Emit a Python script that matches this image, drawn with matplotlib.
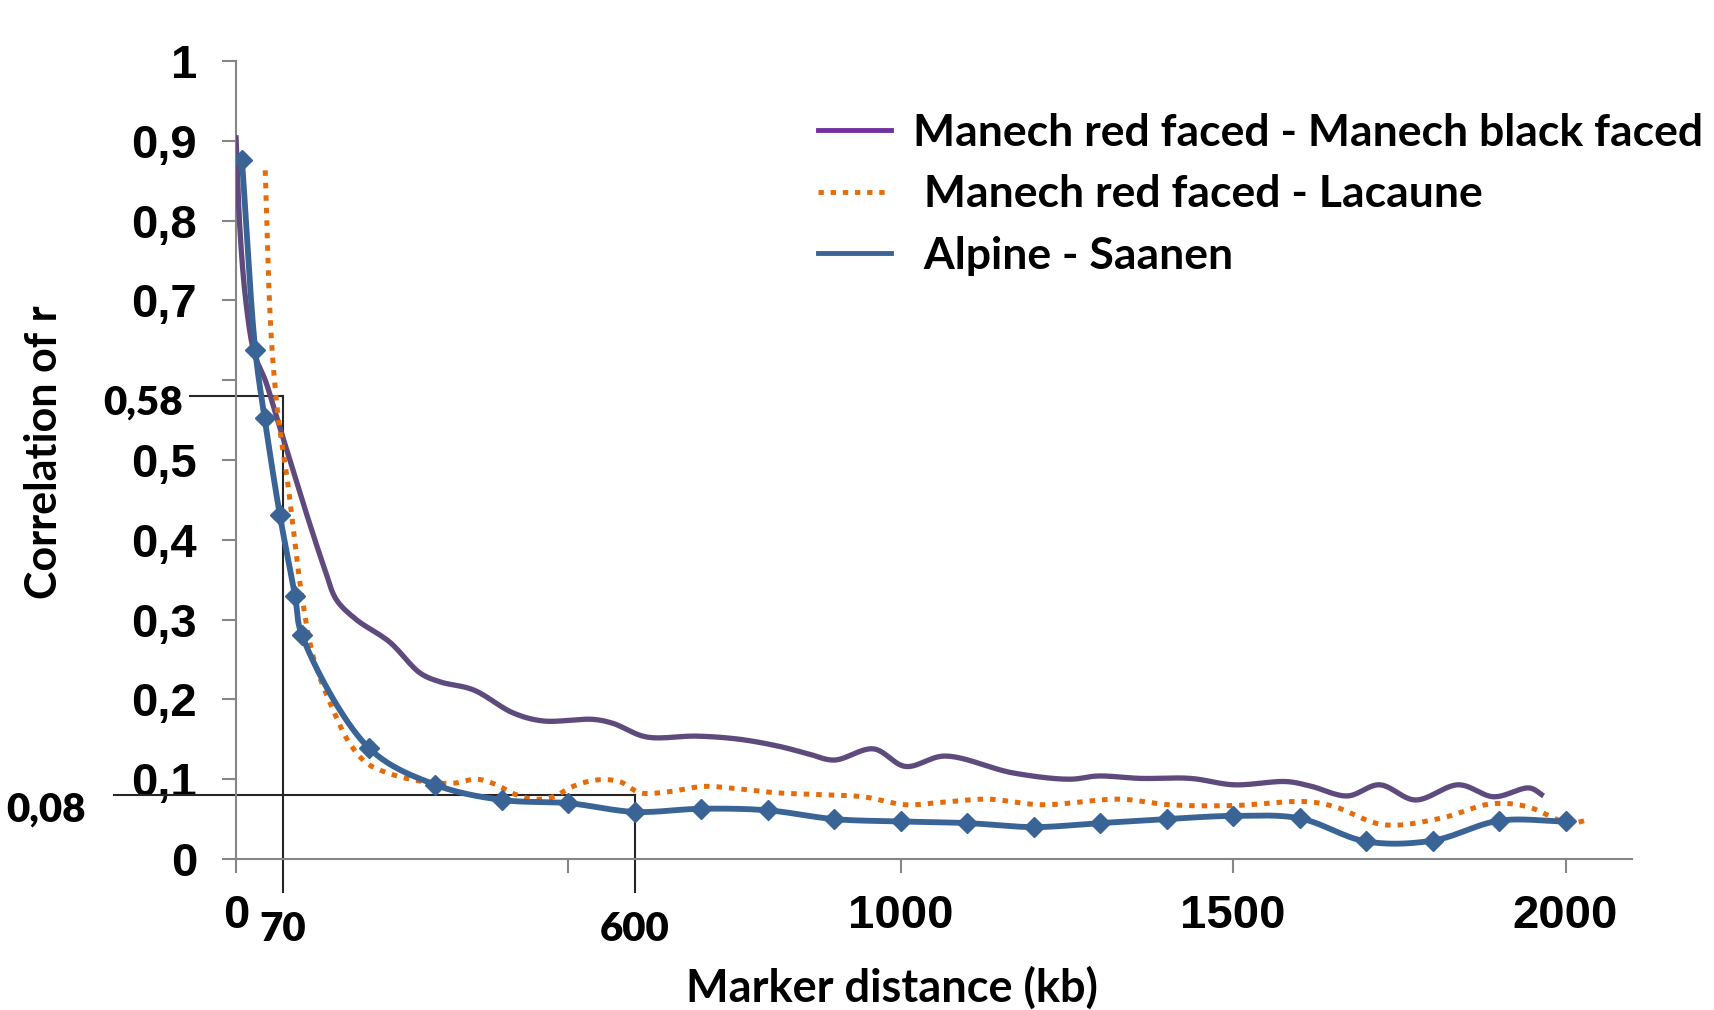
import numpy as np
import matplotlib
matplotlib.use("Agg")
import matplotlib.pyplot as plt
from matplotlib.lines import Line2D
from matplotlib import transforms

# Distancia entre marcadores (kb) y correlación de r para cada par de razas
dist_manech_black = [0, 6, 14, 24, 31, 44, 64, 84, 109, 134, 151, 181, 231, 277, 307,
                     357, 417, 462, 537, 567, 617, 693, 758, 818, 860, 900, 959, 1007,
                     1066, 1168, 1254, 1297, 1361, 1436, 1501, 1581, 1618, 1672, 1720,
                     1774, 1839, 1892, 1946, 1967]
r_manech_black = [0.907, 0.788, 0.705, 0.646, 0.625, 0.600, 0.546, 0.492, 0.425, 0.362,
                  0.325, 0.300, 0.272, 0.233, 0.222, 0.212, 0.183, 0.173, 0.175, 0.170,
                  0.153, 0.154, 0.150, 0.141, 0.132, 0.124, 0.138, 0.116, 0.129, 0.108,
                  0.100, 0.104, 0.101, 0.101, 0.093, 0.097, 0.091, 0.079, 0.093, 0.074,
                  0.093, 0.078, 0.089, 0.079]

dist_lacaune = [44, 49, 53, 57, 64, 76, 86, 99, 118, 146, 171, 197, 231, 282, 327, 362,
                392, 417, 447, 477, 507, 542, 577, 608, 648, 703, 743, 813, 868, 943,
                1007, 1061, 1131, 1212, 1329, 1404, 1501, 1608, 1651, 1726, 1812, 1887,
                1941, 2005, 2037]
r_lacaune = [0.863, 0.726, 0.655, 0.609, 0.550, 0.483, 0.416, 0.330, 0.248, 0.187,
             0.145, 0.120, 0.107, 0.097, 0.095, 0.100, 0.093, 0.082, 0.075, 0.078,
             0.091, 0.099, 0.097, 0.083, 0.084, 0.091, 0.089, 0.083, 0.081, 0.078,
             0.068, 0.071, 0.075, 0.068, 0.075, 0.068, 0.067, 0.072, 0.066, 0.043,
             0.051, 0.069, 0.066, 0.045, 0.050]

dist_alpine = [9, 29, 43, 66, 89, 99, 200, 300, 400, 500, 600, 700, 800, 900, 1000,
               1100, 1200, 1300, 1400, 1500, 1600, 1700, 1800, 1900, 2000]
r_alpine = [0.876, 0.638, 0.553, 0.431, 0.329, 0.281, 0.139, 0.093, 0.074, 0.070,
            0.059, 0.063, 0.061, 0.050, 0.047, 0.045, 0.040, 0.045, 0.050, 0.054,
            0.051, 0.022, 0.023, 0.048, 0.047]

series_names = ["Manech red faced - Manech black faced",
                " Manech red faced - Lacaune",
                " Alpine - Saanen"]

x_ticks = [0, 500, 1000, 1500, 2000]
x_ticklabels = ["0", "", "1000", "1500", "2000"]
y_ticks = [0, 0.1, 0.2, 0.3, 0.4, 0.5, 0.6, 0.7, 0.8, 0.9, 1.0]
y_ticklabels = ["0", "0,1", "0,2", "0,3", "0,4", "0,5", "", "0,7", "0,8", "0,9", "1"]

# valeurs repères (seuils)
r_seuils = [0.58, 0.08]
dist_seuils = [70, 600]

gris = "#868686"
violet = "#5E4A7D"
violet_leg = "#7030A0"
orange = "#E46C0A"
bleu = "#3A6495"

fig = plt.figure(figsize=(17.15, 10.10), dpi=100)
ax = fig.add_axes([0.1376, 0.1495, 0.8140, 0.7901])
ax.set_xlim(0, 2100)
ax.set_ylim(0, 1)


def lisser(xs, ys, n=24):
    # Catmull-Rom centripète calculé en pixels, pour une courbe lissée
    P = ax.transData.transform(np.column_stack([xs, ys]))
    P = np.vstack([2 * P[0] - P[1], P, 2 * P[-1] - P[-2]])
    out = [P[1]]
    for i in range(1, len(P) - 2):
        p0, p1, p2, p3 = P[i - 1], P[i], P[i + 1], P[i + 2]
        d01 = max(np.linalg.norm(p1 - p0), 1e-6) ** 0.5
        d12 = max(np.linalg.norm(p2 - p1), 1e-6) ** 0.5
        d23 = max(np.linalg.norm(p3 - p2), 1e-6) ** 0.5
        t0, t1 = 0.0, d01
        t2, t3 = t1 + d12, t1 + d12 + d23
        t = np.linspace(t1, t2, n)[1:, None]
        a1 = (t1 - t) / (t1 - t0) * p0 + (t - t0) / (t1 - t0) * p1
        a2 = (t2 - t) / (t2 - t1) * p1 + (t - t1) / (t2 - t1) * p2
        a3 = (t3 - t) / (t3 - t2) * p2 + (t - t2) / (t3 - t2) * p3
        b1 = (t2 - t) / (t2 - t0) * a1 + (t - t0) / (t2 - t0) * a2
        b2 = (t3 - t) / (t3 - t1) * a2 + (t - t1) / (t3 - t1) * a3
        c = (t2 - t) / (t2 - t1) * b1 + (t - t1) / (t2 - t1) * b2
        out.extend(c)
    Q = ax.transData.inverted().transform(np.array(out))
    return Q[:, 0], Q[:, 1]


# lignes repères
ax.plot([dist_seuils[0], dist_seuils[0]], [r_seuils[0], -0.041], color="#262626", lw=1.5,
        clip_on=False, zorder=2)
ax.plot([dist_seuils[1], dist_seuils[1]], [r_seuils[1], -0.041], color="#262626", lw=1.5,
        clip_on=False, zorder=2)
x_debut_58 = ax.transData.inverted().transform((190, 0))[0]
x_debut_08 = ax.transData.inverted().transform((114, 0))[0]
ax.plot([x_debut_58, dist_seuils[0]], [r_seuils[0]] * 2, color="#262626", lw=1.5,
        clip_on=False, zorder=2)
ax.plot([x_debut_08, dist_seuils[1]], [r_seuils[1]] * 2, color="#262626", lw=1.5,
        clip_on=False, zorder=2)

xs, ys = lisser(dist_manech_black, r_manech_black)
ax.plot(xs, ys, color=violet, lw=3.8, solid_capstyle="butt", zorder=3)
xs, ys = lisser(dist_lacaune, r_lacaune)
ax.plot(xs, ys, color=orange, lw=3.6, linestyle=(0, (1.1, 1.4)), dash_capstyle="butt", zorder=4)
xs, ys = lisser(dist_alpine, r_alpine)
ax.plot(xs, ys, color=bleu, lw=4.2, zorder=5)
ax.plot(dist_alpine, r_alpine, linestyle="none", marker="D", markersize=10.5,
        color=bleu, zorder=6)

# axes
for s in ["top", "right"]:
    ax.spines[s].set_visible(False)
for s in ["left", "bottom"]:
    ax.spines[s].set_color(gris)
    ax.spines[s].set_linewidth(1.5)
ax.set_xticks(x_ticks)
ax.set_xticklabels(x_ticklabels)
ax.set_yticks(y_ticks)
ax.set_yticklabels(y_ticklabels)
ax.tick_params(direction="out", length=10, width=1.5, color=gris)
ax.tick_params(axis="x", pad=15)
ax.tick_params(axis="y", pad=18)
for lab in ax.get_xticklabels() + ax.get_yticklabels():
    lab.set_fontfamily("Liberation Sans")
    lab.set_fontweight("bold")
    lab.set_fontsize(34)

# étiquettes des repères
fig_y = transforms.blended_transform_factory(fig.transFigure, ax.transData)
police = dict(family="Lato", weight="heavy", size=29)
ax.text(183 / 1715, r_seuils[0] - 0.009, "0,58", transform=fig_y, ha="right", va="center", **police)
ax.text(86 / 1715, r_seuils[1] - 0.019, "0,08", transform=fig_y, ha="right", va="center", **police)
ax.text(dist_seuils[0], -0.088, "70", ha="center", va="center", clip_on=False, **police)
ax.text(dist_seuils[1], -0.088, "600", ha="center", va="center", clip_on=False, **police)

fig.text(44 / 1715, 1 - 452 / 1010, "Correlation of r", rotation=90, ha="center", va="center",
         family="Lato", weight="bold", size=31)
fig.text(892 / 1715, 1 - 988 / 1010, "Marker distance (kb)", ha="center", va="center",
         family="Lato", weight="bold", size=32.5)

poignees = [Line2D([], [], color=violet_leg, lw=3.5),
            Line2D([], [], color=orange, lw=3.5, linestyle=(0, (1.1, 1.4))),
            Line2D([], [], color=bleu, lw=3.5)]
leg = ax.legend(poignees, series_names, loc="upper left", bbox_to_anchor=(818 / 1715, 1 - 113 / 1010),
                bbox_transform=fig.transFigure, frameon=False, borderpad=0, borderaxespad=0,
                handlelength=1.64, handletextpad=0.5, labelspacing=0.48,
                prop=dict(family="Lato", weight="bold", size=32))

fig.savefig("out.png", dpi=100, facecolor="white")
